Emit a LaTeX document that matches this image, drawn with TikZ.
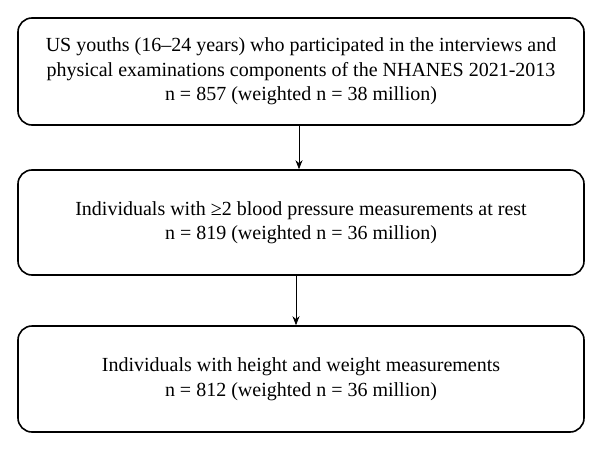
\documentclass[tikz,border=0pt]{standalone}
\usepackage{fontspec}
\setmainfont{Liberation Serif}
\usetikzlibrary{arrows.meta}
\begin{document}
\begin{tikzpicture}[x=1pt,y=-1pt,
  boxst/.style={draw,line width=1.6pt,rounded corners=14pt,minimum width=566pt,align=center,font=\fontsize{20}{24.5}\selectfont,inner sep=0pt},
  arr/.style={-{Stealth[length=9pt,width=7pt]},line width=0.8pt}]
\useasboundingbox (0,0) rectangle (602,450);
\node[boxst,minimum height=107pt] (a) at (301,71.5) {US youths (16–24 years) who participated in the interviews and\\physical examinations components of the NHANES 2021-2013\\n = 857 (weighted n = 38 million)};
\node[boxst,minimum height=105pt] (b) at (301,222.5) {Individuals with ≥2 blood pressure measurements at rest\\n = 819 (weighted n = 36 million)};
\node[boxst,minimum height=106pt] (c) at (301,379) {Individuals with height and weight measurements\\n = 812 (weighted n = 36 million)};
\draw[arr] (a.south -| 299,0) -- (b.north -| 299,0);
\draw[arr] (b.south -| 296,0) -- (c.north -| 296,0);
\end{tikzpicture}
\end{document}
